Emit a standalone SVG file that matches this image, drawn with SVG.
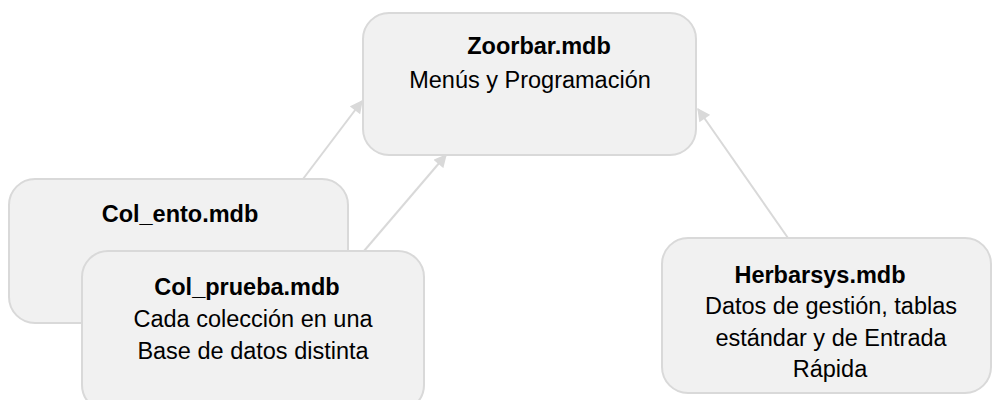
<svg xmlns="http://www.w3.org/2000/svg" width="992" height="400" viewBox="0 0 992 400">
<defs>
<style>
.box{fill:#f1f1f1;stroke:#d9d9d9;stroke-width:2}
.t{font-family:"Liberation Sans",Arial,sans-serif;font-size:23.5px;fill:#000;text-anchor:middle}
.b{font-weight:bold}
.c{stroke:#d9d9d9;stroke-width:2;fill:none;marker-end:url(#ah)}
</style>
<marker id="ah" viewBox="0 0 10 10" refX="9" refY="5" markerWidth="14" markerHeight="13" markerUnits="userSpaceOnUse" orient="auto">
<path d="M0,0 L10,5 L0,10 z" fill="#d9d9d9"/>
</marker>
</defs>
<rect width="992" height="400" fill="#fff"/>
<g id="connectors">
<line class="c" x1="303" y1="179" x2="362" y2="101"/>
<line class="c" x1="364" y1="251" x2="446" y2="155"/>
<line class="c" x1="788" y1="238" x2="698" y2="109"/>
</g>
<g id="zoorbar">
<rect class="box" x="363" y="13" width="333" height="142" rx="26"/>
<text class="t b" x="539" y="54">Zoorbar.mdb</text>
<text class="t" x="530" y="88">Menús y Programación</text>
</g>
<g id="col_ento">
<rect class="box" x="9" y="179" width="339" height="144" rx="26"/>
<text class="t b" x="180" y="222">Col_ento.mdb</text>
</g>
<g id="col_prueba">
<rect class="box" x="82" y="251" width="342" height="160" rx="26"/>
<text class="t b" x="247" y="295">Col_prueba.mdb</text>
<text class="t" x="253" y="327">Cada colección en una</text>
<text class="t" x="253" y="359">Base de datos distinta</text>
</g>
<g id="herbarsys">
<rect class="box" x="662" y="238" width="329" height="155" rx="26"/>
<text class="t b" x="820" y="283">Herbarsys.mdb</text>
<text class="t" x="831" y="314">Datos de gestión, tablas</text>
<text class="t" x="831" y="346">estándar y de Entrada</text>
<text class="t" x="830" y="377">Rápida</text>
</g>
</svg>
